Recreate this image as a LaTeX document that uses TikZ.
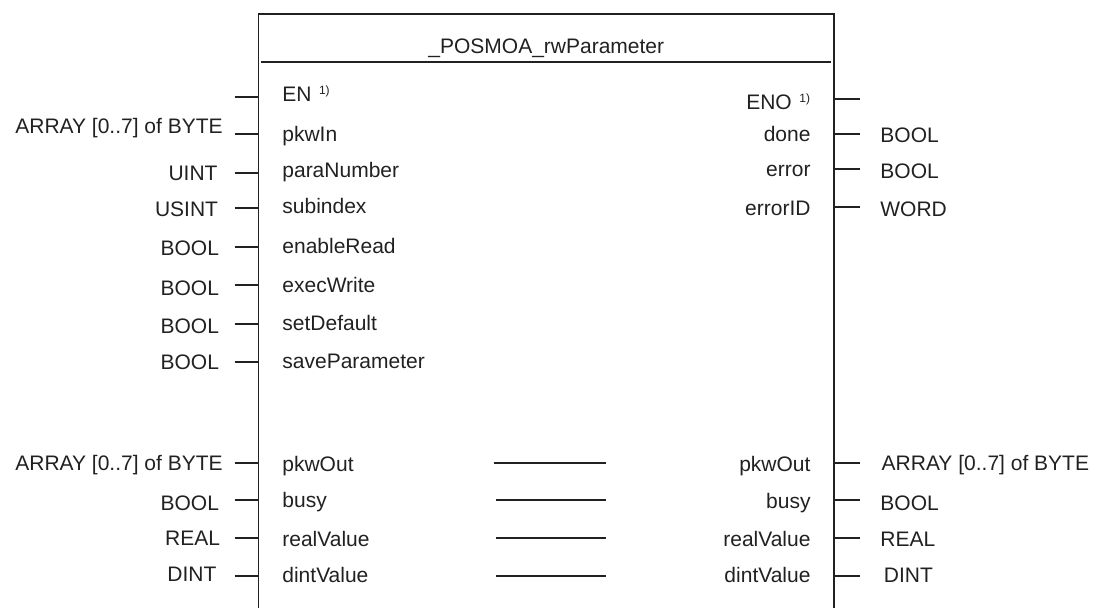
\documentclass[tikz,border=0pt]{standalone}
\usepackage{fontspec}
\setmainfont{Liberation Sans}
\newcommand\pinfont{\fontsize{21}{25}\selectfont}
\newcommand\notemark{\hspace{7.5pt}\raisebox{7pt}{\fontsize{12}{13}\selectfont 1)}}
\definecolor{ink}{gray}{0.13}
\begin{document}
\begin{tikzpicture}[x=1pt,y=-1pt,
  every node/.style={inner sep=0pt,outer sep=0pt,font=\pinfont,text=ink},
  inpin/.style={anchor=base west},
  outpin/.style={anchor=base east},
  intype/.style={anchor=base east},
  outtype/.style={anchor=base west},
  frame/.style={draw=ink,line width=1.8pt},
  stub/.style={draw=ink,line width=1.5pt},
  link/.style={draw=ink,line width=1.5pt}]
\useasboundingbox (0,0) rectangle (1093,608);

% block outline (open at the bottom)
\coordinate (boxNW) at (258.5,14);
\coordinate (boxNE) at (834.2,14);
\coordinate (boxSW) at (258.5,612);
\coordinate (boxSE) at (834.2,612);
\draw[frame] (boxSW) -- (boxNW) -- (boxNE) -- (boxSE);

% title and separator
\node[anchor=base] (title) at (546.3,53) {\_POSMOA\_rwParameter};
\coordinate (sepL) at (261,62);
\coordinate (sepR) at (831.4,62);
\draw[frame] (sepL) -- (sepR);

% input side: enable
\node[inpin] (pinEN) at (282.4,101) {EN\notemark};
\coordinate (stEN) at (234.5,97);
\draw[stub] (stEN) -- (stEN -| boxNW);

% input side: typed pins  name/stub y/type x/type base/pin base/type/pin
\foreach \n/\sy/\tx/\tb/\pb/\typ/\pin in {
  pkwIn/134/222.7/133.5/141.7/{ARRAY [0..7] of BYTE}/pkwIn,
  paraNumber/173/217.5/180/177.7/UINT/paraNumber,
  subindex/208/218/216/213/USINT/subindex,
  enableRead/247/219/255/253/BOOL/enableRead,
  execWrite/285/219/295/292/BOOL/execWrite,
  setDefault/324/219/333/330.7/BOOL/setDefault,
  saveParameter/362/219/369/368/BOOL/saveParameter,
  pkwOutI/463/222.7/470.7/471/{ARRAY [0..7] of BYTE}/pkwOut,
  busyI/500/219/510/507/BOOL/busy,
  realValueI/538/220/545/546.7/REAL/realValue,
  dintValueI/576/216.4/581/582/DINT/dintValue}{
  \node[intype] (ty\n) at (\tx,\tb) {\typ};
  \node[inpin] (pin\n) at (282.4,\pb) {\pin};
  \coordinate (st\n) at (234.5,\sy);
  \draw[stub] (st\n) -- (st\n -| boxNW);
}

% output side: enable out
\node[outpin] (pinENO) at (810,109) {ENO\notemark};
\coordinate (stENO) at (859.5,99);
\draw[stub] (stENO -| boxNE) -- (stENO);

% output side: typed pins  name/stub y/type x/pin base/type base/pin/type
\foreach \n/\sy/\tx/\pb/\tb/\pin/\typ in {
  done/134/880.4/141.7/142/done/BOOL,
  error/169/880.4/176.7/178/error/BOOL,
  errorID/207/880.4/215.7/216.7/errorID/WORD,
  pkwOutO/463/881.7/471/470/pkwOut/{ARRAY [0..7] of BYTE},
  busyO/500/880.4/508/510/busy/BOOL,
  realValueO/538/880.4/546.7/546.7/realValue/REAL,
  dintValueO/576/883.9/582/582/dintValue/DINT}{
  \node[outpin] (pin\n) at (810.5,\pb) {\pin};
  \node[outtype] (ty\n) at (\tx,\tb) {\typ};
  \coordinate (st\n) at (859.5,\sy);
  \draw[stub] (st\n -| boxNE) -- (st\n);
}

% in/out pass-through links inside the block
\foreach \n/\y/\xa in {pkwOut/463/493.5, busy/500/496.3, realValue/538/496.3, dintValue/576/496.3}{
  \coordinate (lkA\n) at (\xa,\y);
  \coordinate (lkB\n) at (605.6,\y);
  \draw[link] (lkA\n) -- (lkB\n);
}
\end{tikzpicture}
\end{document}
